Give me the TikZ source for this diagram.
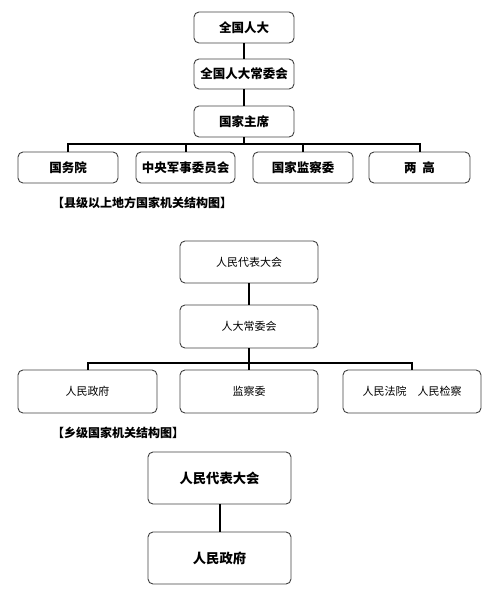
\documentclass[tikz,border=0pt]{standalone}
\usepackage{fontspec}
\newfontfamily\cjk{Noto Sans CJK SC}
\begin{document}
\begin{tikzpicture}[x=1pt,y=-1pt,
    box/.style={draw=black!75,line width=0.9pt,rounded corners=5pt,inner sep=0pt,font=\cjk\bfseries\fontsize{12.5}{14}\selectfont},
    boxb/.style={box,font=\cjk\fontsize{11}{13}\selectfont},
    boxc/.style={box,font=\cjk\bfseries\fontsize{13.3}{15}\selectfont},
    conn/.style={line width=2pt},
    titolo/.style={anchor=west,inner sep=0pt,font=\cjk\bfseries\fontsize{12}{14}\selectfont}]
        \useasboundingbox (0,0) rectangle (500,590);
        %livello nazionale
        \node[box,minimum width=100pt,minimum height=31pt] (qgrd) at (244,27.5) {全国人大};
        \node[box,minimum width=100pt,minimum height=30pt] (cwh) at (244,74) {全国人大常委会};
        \node[box,minimum width=100pt,minimum height=31pt] (zx) at (244,121.5) {国家主席};
        \node[box,minimum width=100pt,minimum height=31pt] (gwy) at (68,167.5) {国务院};
        \node[box,minimum width=99pt,minimum height=31pt] (jw) at (185.5,167.5) {中央军事委员会};
        \node[box,minimum width=100pt,minimum height=31pt] (jcw) at (303,167.5) {国家监察委};
        \node[box,minimum width=101pt,minimum height=31pt] (lg) at (419.5,167.5) {两\ \ 高};
        \coordinate (bus1) at (244,144);
        \draw[conn] (qgrd) -- (cwh);
        \draw[conn] (cwh) -- (zx);
        \draw[conn] (zx) -- (bus1);
        \foreach \n in {gwy,jw,jcw,lg} \draw[conn] (\n.north) |- (bus1);
        \node[titolo] (t1) at (52,203) {【县级以上地方国家机关结构图】};

        %livello locale
        \node[boxb,minimum width=138pt,minimum height=42pt] (rd) at (249,262) {人民代表大会};
        \node[boxb,minimum width=138pt,minimum height=43pt] (rdcw) at (249,326.5) {人大常委会};
        \node[boxb,minimum width=139pt,minimum height=43pt] (zf) at (87.5,391.5) {人民政府};
        \node[boxb,minimum width=138pt,minimum height=43pt] (jc) at (249,391.5) {监察委};
        \node[boxb,minimum width=138pt,minimum height=43pt] (fy) at (412,391.5) {人民法院\quad 人民检察};
        \coordinate (bus2) at (249,363);
        \draw[conn] (rd) -- (rdcw);
        \draw[conn] (rdcw) -- (bus2);
        \foreach \n in {zf,jc,fy} \draw[conn] (\n.north) |- (bus2);
        \node[titolo] (t2) at (52,433) {【乡级国家机关结构图】};

        %livello di villaggio
        \node[boxc,minimum width=143pt,minimum height=52pt] (xrd) at (219.5,478) {人民代表大会};
        \node[boxc,minimum width=143pt,minimum height=52pt] (xzf) at (219.5,558) {人民政府};
        \draw[conn] (xrd) -- (xzf);
    \end{tikzpicture}
\end{document}
